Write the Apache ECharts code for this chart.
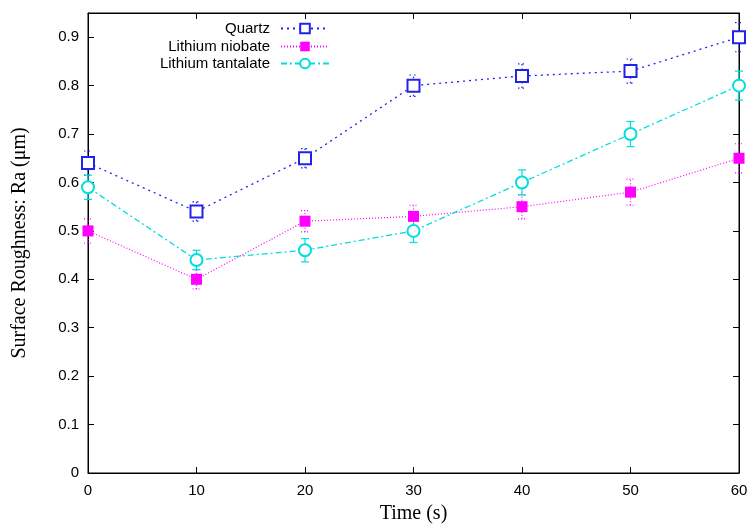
<!DOCTYPE html>
<html>
<head>
<meta charset="utf-8">
<script src="https://cdn.jsdelivr.net/npm/echarts@6/dist/echarts.min.js"></script>
<style>
  html, body { margin: 0; padding: 0; background: #fff; }
  #chart { width: 751px; height: 527px; }
</style>
</head>
<body>
<div id="chart"></div>
<script>
// time (s)
const times = [0, 10, 20, 30, 40, 50, 60];
// Ra (um) per sample
const quartz = [0.64, 0.54, 0.65, 0.80, 0.82, 0.83, 0.90];
const quartzErr = [0.025, 0.02, 0.02, 0.022, 0.025, 0.025, 0.03];
const niobate = [0.50, 0.40, 0.52, 0.53, 0.55, 0.58, 0.65];
const niobateErr = [0.025, 0.02, 0.022, 0.023, 0.025, 0.027, 0.03];
const tantalate = [0.59, 0.44, 0.46, 0.50, 0.60, 0.70, 0.80];
const tantalateErr = [0.025, 0.02, 0.024, 0.024, 0.026, 0.026, 0.03];

const BLUE = "#2222ee";
const MAGENTA = "#ff00ff";
const CYAN = "#00dede";

function pts(vals) {
  return times.map((t, i) => [t, vals[i]]);
}
function errPts(vals, errs) {
  return times.map((t, i) => [t, vals[i] - errs[i], vals[i] + errs[i]]);
}

// error bars drawn through the axes
function errorBars(name, vals, errs, color, dash) {
  return {
    name: name + " err",
    type: "custom",
    xAxisIndex: 0,
    yAxisIndex: 0,
    z: 1,
    data: errPts(vals, errs),
    renderItem: function (params, api) {
      let lo = api.coord([api.value(0), api.value(1)]);
      let hi = api.coord([api.value(0), api.value(2)]);
      let w = 4;
      let style = { stroke: color, lineWidth: 1.2, lineDash: dash };
      return {
        type: "group",
        children: [
          { type: "line", shape: { x1: lo[0], y1: lo[1], x2: hi[0], y2: hi[1] }, style: style },
          { type: "line", shape: { x1: lo[0] - w, y1: lo[1], x2: lo[0] + w, y2: lo[1] }, style: style },
          { type: "line", shape: { x1: hi[0] - w, y1: hi[1], x2: hi[0] + w, y2: hi[1] }, style: style },
        ],
      };
    },
  };
}

let myChart = echarts.init(document.getElementById("chart"));

const legendBase = {
  orient: "vertical",
  right: 416,
  itemWidth: 48,
  itemHeight: 12,
  itemGap: 4,
  align: "right",
  textStyle: { fontFamily: "Liberation Sans", fontSize: 15, color: "#000", padding: [0, 6, 0, 0] },
};

// ticks point into the plot (gnuplot style)
const inTick = { show: true, inside: true, length: 6, lineStyle: { color: "#000" } };
const frameLine = { show: true, onZero: false, lineStyle: { color: "#000" } };

myChart.setOption({
  animation: false,
  backgroundColor: "#fff",
  legend: [
    Object.assign({}, legendBase, { top: 16, data: ["Quartz"] }),
    Object.assign({}, legendBase, { top: 34, data: ["Lithium niobate"] }),
    Object.assign({}, legendBase, { top: 51, data: ["Lithium tantalate"] }),
  ],
  grid: {
    left: 88,
    right: 12,
    top: 13,
    bottom: 54,
    containLabel: false,
    outerBoundsMode: "none",
    show: true,
    borderColor: "#000",
    borderWidth: 1,
    backgroundColor: "transparent",
  },
  xAxis: [
    {
      type: "value",
      min: 0,
      max: 60,
      interval: 10,
      name: "Time (s)",
      nameLocation: "middle",
      nameGap: 31,
      nameTextStyle: { fontFamily: "Liberation Serif", fontSize: 20, color: "#000" },
      axisLine: frameLine,
      axisTick: inTick,
      axisLabel: { fontFamily: "Liberation Sans", fontSize: 15, color: "#000", margin: 10 },
      splitLine: { show: false },
    },
    {
      type: "value",
      position: "top",
      min: 0,
      max: 60,
      interval: 10,
      axisLine: frameLine,
      axisTick: inTick,
      axisLabel: { show: false },
      splitLine: { show: false },
    },
  ],
  yAxis: [
    {
      type: "value",
      position: "left",
      min: 0,
      max: 0.95,
      interval: 0.1,
      name: "Surface Roughness: Ra (\u03bcm)",
      nameLocation: "middle",
      nameGap: 58,
      nameTextStyle: { fontFamily: "Liberation Serif", fontSize: 20, color: "#000" },
      axisLine: frameLine,
      axisTick: inTick,
      axisLabel: { fontFamily: "Liberation Sans", fontSize: 15, color: "#000", margin: 9, showMaxLabel: false },
      splitLine: { show: false },
    },
    {
      type: "value",
      position: "right",
      min: 0,
      max: 0.95,
      interval: 0.1,
      axisLine: frameLine,
      axisTick: inTick,
      axisLabel: { show: false },
      splitLine: { show: false },
    },
  ],
  series: [
    errorBars("Quartz", quartz, quartzErr, BLUE, [1.5, 3]),
    errorBars("Lithium niobate", niobate, niobateErr, MAGENTA, [1, 2]),
    errorBars("Lithium tantalate", tantalate, tantalateErr, CYAN, null),
    {
      name: "Quartz",
      type: "line",
      data: pts(quartz),
      symbol: "emptyRect",
      symbolSize: 12,
      z: 3,
      lineStyle: { color: BLUE, width: 1.3, type: [2, 4] },
      itemStyle: { color: BLUE, borderColor: BLUE, borderWidth: 1.4 },
    },
    {
      name: "Lithium niobate",
      type: "line",
      data: pts(niobate),
      symbol: "rect",
      symbolSize: 11,
      z: 3,
      lineStyle: { color: MAGENTA, width: 1.2, type: [1, 2] },
      itemStyle: { color: MAGENTA },
    },
    {
      name: "Lithium tantalate",
      type: "line",
      data: pts(tantalate),
      symbol: "emptyCircle",
      symbolSize: 12,
      z: 3,
      lineStyle: { color: CYAN, width: 1.3, type: [6, 3, 2, 3] },
      itemStyle: { color: CYAN, borderColor: CYAN, borderWidth: 1.4 },
    },
  ],
});
</script>
</body>
</html>
